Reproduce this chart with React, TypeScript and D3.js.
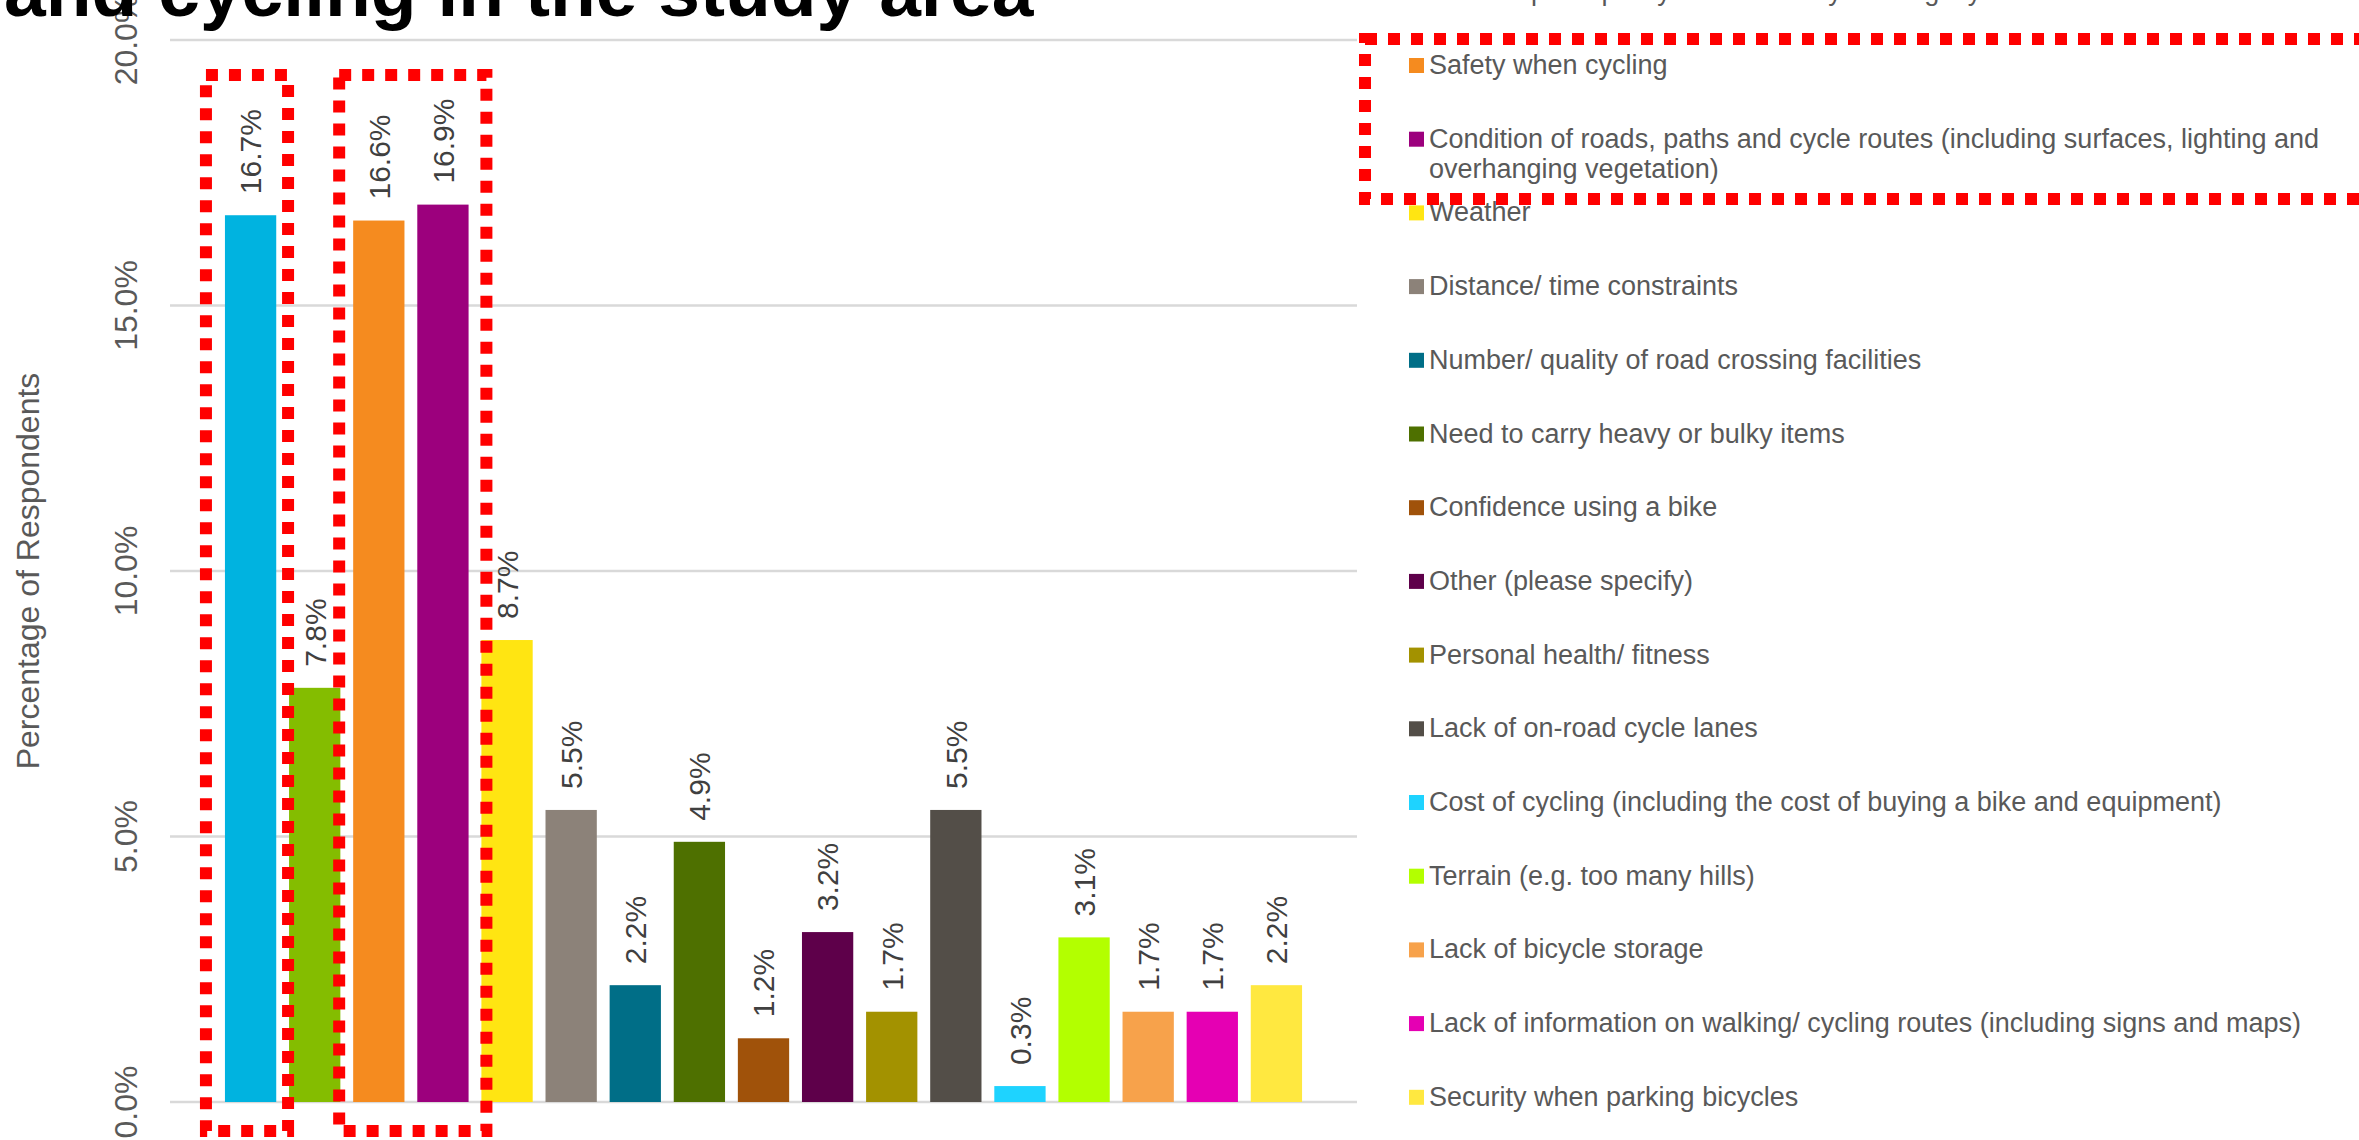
import React from 'react';
import * as d3 from 'd3';

const seriesNames: string[] = [
  'Lack of off-road/ traffic-free cycle routes',
  'Lack of/ poor quality of road safety walking/ cycle routes',
  'Safety when cycling',
  'Condition of roads, paths and cycle routes (including surfaces, lighting and overhanging vegetation)',
  'Weather',
  'Distance/ time constraints',
  'Number/ quality of road crossing facilities',
  'Need to carry heavy or bulky items',
  'Confidence using a bike',
  'Other (please specify)',
  'Personal health/ fitness',
  'Lack of on-road cycle lanes',
  'Cost of cycling (including the cost of buying a bike and equipment)',
  'Terrain (e.g. too many hills)',
  'Lack of bicycle storage',
  'Lack of information on walking/ cycling routes (including signs and maps)',
  'Security when parking bicycles',
];

const seriesValues: number[] = [16.7, 7.8, 16.6, 16.9, 8.7, 5.5, 2.2, 4.9, 1.2, 3.2, 1.7, 5.5, 0.3, 3.1, 1.7, 1.7, 2.2];

const seriesColors: string[] = [
  '#00B3E0', '#84BD00', '#F58B1F', '#9C007D', '#FFE512', '#8C8279', '#006E87', '#4E7000',
  '#A0520A', '#5E004A', '#A39200', '#534E48', '#1ED3FF', '#B3FF00', '#F7A24B', '#E500B3', '#FFE840',
];

const yTicks: number[] = [0, 5, 10, 15, 20];
const titleText = 'and cycling in the study area';
const yAxisTitle = 'Percentage of Respondents';

const W = 2359;
const H = 1140;
const FONT = "'Liberation Sans', Arial, sans-serif";

function wrapText(text: string, font: string, maxW: number): string[] {
  const canvas = document.createElement('canvas');
  const ctx = canvas.getContext('2d');
  if (!ctx) return [text];
  ctx.font = font;
  const words = text.split(' ');
  const lines: string[] = [];
  let cur = '';
  for (const w of words) {
    const t = cur ? cur + ' ' + w : w;
    if (ctx.measureText(t).width > maxW && cur) {
      lines.push(cur);
      cur = w;
    } else cur = t;
  }
  if (cur) lines.push(cur);
  return lines;
}

export default function App() {
  const plotLeft = 170;
  const plotRight = 1357;
  const y = d3.scaleLinear().domain([0, 20]).range([1102, 40]);
  const x = d3
    .scaleBand<string>()
    .domain(seriesNames)
    .range([plotLeft, plotRight])
    .paddingInner(0.2)
    .paddingOuter(0.857);
  const bw = x.bandwidth();
  const fmt = d3.format('.1%');

  const legendX = 1409;
  const legendTop = 74;
  const legendStep = 73.7;
  const legendFontSize = 27;
  const legendFont = `${legendFontSize}px 'Liberation Sans', Arial, sans-serif`;

  const redBoxes = [
    { x0: (x(seriesNames[0]) as number) - 19, x1: (x(seriesNames[1]) as number) - 1, y0: 75, y1: 1131 },
    { x0: (x(seriesNames[2]) as number) - 14, x1: (x(seriesNames[4]) as number) + 5, y0: 75, y1: 1131 },
    { x0: 1365, x1: 2380, y0: 39, y1: 199 },
  ];

  return (
    <svg
      width={W}
      height={H}
      style={{ position: 'absolute', left: 0, top: 0, background: '#fff' }}
      fontFamily={FONT}
    >
      <rect x={0} y={0} width={W} height={H} fill="#fff" />
      {yTicks.map((t) => (
        <line key={'g' + t} x1={plotLeft} x2={plotRight} y1={y(t)} y2={y(t)} stroke="#D9D9D9" strokeWidth={2.5} />
      ))}
      {yTicks.map((t) => (
        <text
          key={'t' + t}
          transform={`translate(137,${y(t)}) rotate(-90)`}
          textAnchor="middle"
          fontSize={32}
          fill="#595959"
        >
          {fmt(t / 100)}
        </text>
      ))}
      <text transform={`translate(39,${(y(0) + y(20)) / 2}) rotate(-90)`} textAnchor="middle" fontSize={32} fill="#595959">
        {yAxisTitle}
      </text>
      {seriesNames.map((s, i) => (
        <rect key={'b' + i} x={x(s)} y={y(seriesValues[i])} width={bw} height={y(0) - y(seriesValues[i])} fill={seriesColors[i]} />
      ))}
      {seriesNames.map((s, i) => (
        <text
          key={'l' + i}
          transform={`translate(${(x(s) as number) + bw / 2},${y(seriesValues[i]) - 21}) rotate(-90)`}
          dy="0.36em"
          fontSize={30}
          fill="#404040"
        >
          {fmt(seriesValues[i] / 100)}
        </text>
      ))}
      {seriesNames.map((s, i) => {
        const base = legendTop + (i - 2) * legendStep;
        const lines = wrapText(s, legendFont, 935);
        return (
          <g key={'lg' + i}>
            <rect x={legendX} y={base - 16} width={15} height={15} fill={seriesColors[i]} />
            {lines.map((ln, j) => (
              <text key={j} x={1429} y={base + j * 30} fontSize={legendFontSize} fill="#595959">
                {ln}
              </text>
            ))}
          </g>
        );
      })}
      <text x={4} y={16} fontSize={75} fontWeight="bold" fill="#000">
        {titleText}
      </text>
      {redBoxes.map((b, i) => (
        <rect
          key={'r' + i}
          x={b.x0}
          y={b.y0}
          width={b.x1 - b.x0}
          height={b.y1 - b.y0}
          fill="none"
          stroke="#FF0000"
          strokeWidth={12}
          strokeDasharray="12 11"
        />
      ))}
    </svg>
  );
}
